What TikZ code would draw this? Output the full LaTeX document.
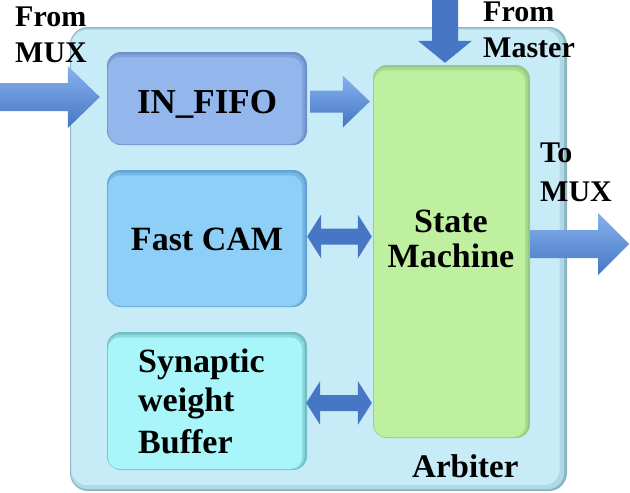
\documentclass[tikz,border=0pt]{standalone}
\usepackage{fontspec}
\setmainfont{Liberation Serif}
\usetikzlibrary{calc}

\definecolor{outerMain}{HTML}{C7ECF7}
\definecolor{outerMid}{HTML}{B0D9E7}
\definecolor{outerDark}{HTML}{8DB5C4}
\definecolor{fifoMain}{HTML}{93B7EC}
\definecolor{fifoDark}{HTML}{6D91C9}
\definecolor{camMain}{HTML}{8ECFF8}
\definecolor{camDark}{HTML}{62A4D6}
\definecolor{synMain}{HTML}{A8F6FA}
\definecolor{synDark}{HTML}{6FBFC4}
\definecolor{smMain}{HTML}{BEF0A0}
\definecolor{smDark}{HTML}{98C984}
\definecolor{arrLight}{HTML}{86B2EE}
\definecolor{arrMain}{HTML}{5F92DE}
\definecolor{arrDark}{HTML}{4676C4}

\tikzset{
  box/.style={rounded corners=14pt, inner sep=0pt, draw=none},
  bigtxt/.style={font=\bfseries\fontsize{34}{40}\selectfont, inner sep=0pt, text=black},
  smalltxt/.style={font=\bfseries\fontsize{30}{36}\selectfont, inner sep=0pt, text=black},
  singlearr/.style={top color=arrLight, middle color=arrMain, bottom color=arrDark},
  doublearr/.style={top color=arrDark, middle color=arrLight, bottom color=arrDark},
  vertarr/.style={left color=arrDark, middle color=arrLight, right color=arrDark},
}

% #1 start, #2 end, #3 shaft half, #4 head half, #5 head length, #6 style
\newcommand{\rightblock}[6]{%
  \shade[#6] let \p1=(#1), \p2=(#2) in
    (\x1,\y1+#3) -- (\x2-#5,\y1+#3) -- (\x2-#5,\y1+#4) -- (\x2,\y1)
    -- (\x2-#5,\y1-#4) -- (\x2-#5,\y1-#3) -- (\x1,\y1-#3) -- cycle;}
\newcommand{\bothblock}[6]{%
  \shade[#6] let \p1=(#1), \p2=(#2) in
    (\x1,\y1) -- (\x1+#5,\y1+#4) -- (\x1+#5,\y1+#3) -- (\x2-#5,\y1+#3)
    -- (\x2-#5,\y1+#4) -- (\x2,\y1) -- (\x2-#5,\y1-#4) -- (\x2-#5,\y1-#3)
    -- (\x1+#5,\y1-#3) -- (\x1+#5,\y1-#4) -- cycle;}
\newcommand{\downblock}[6]{%
  \shade[#6] let \p1=(#1), \p2=(#2) in
    (\x1-#3,\y1) -- (\x1-#3,\y2+#5) -- (\x1-#4,\y2+#5) -- (\x1,\y2)
    -- (\x1+#4,\y2+#5) -- (\x1+#3,\y2+#5) -- (\x1+#3,\y1) -- cycle;}
% inset look: #1 node, #2 main colour, #3 dark colour
\newcommand{\insetfill}[3]{%
  \fill[#3!55!#2, rounded corners=13pt] ($(#1.south west)+(0.7pt,0.7pt)$) rectangle ($(#1.north east)+(-2.5pt,-2.5pt)$);
  \fill[#2, rounded corners=12pt] ($(#1.south west)+(1.3pt,1.3pt)$) rectangle ($(#1.north east)+(-5pt,-5.5pt)$);}

\begin{document}
\begin{tikzpicture}[x=1pt, y=-1pt]
\useasboundingbox (0,0) rectangle (630,493);
\fill[white] (0,0) rectangle (630,493);

% Arbiter outer box
\node[box, rounded corners=18pt, fill=outerDark, minimum width=497pt, minimum height=464pt] (arb) at (318.5,259) {};
\fill[outerMid, rounded corners=17pt] ($(arb.south west)+(1pt,2pt)$) rectangle ($(arb.north east)+(-3pt,-1.5pt)$);
\fill[outerMain, rounded corners=16pt] ($(arb.south west)+(1.5pt,6pt)$) rectangle ($(arb.north east)+(-7.5pt,-3pt)$);

% inner boxes
\node[box, fill=fifoDark, minimum width=200pt, minimum height=93pt] (fifo) at (207,98.5) {};
\insetfill{fifo}{fifoMain}{fifoDark}
\node[box, fill=camDark, minimum width=200pt, minimum height=137pt] (cam) at (207,238.5) {};
\insetfill{cam}{camMain}{camDark}
\node[box, fill=synDark, minimum width=200pt, minimum height=138pt] (syn) at (207,401) {};
\insetfill{syn}{synMain}{synDark}
\node[box, fill=smDark, minimum width=157pt, minimum height=373pt] (sm) at (451.5,251.5) {};
\insetfill{sm}{smMain}{smDark}

% texts
\node[bigtxt, font=\bfseries\fontsize{35}{40}\selectfont, anchor=base] (fifotxt) at (207,113) {IN\_FIFO};
\node[bigtxt, anchor=base] (camtxt) at (207,250) {Fast CAM};
\node[bigtxt, anchor=north west, align=left] (syntxt) at (138,349) {Synaptic\\[-1pt]weight\\[2pt]Buffer};
\node[bigtxt, font=\bfseries\fontsize{34}{35}\selectfont, anchor=north, align=center] (smtxt) at (451,210) {State\\Machine};
\node[bigtxt, font=\bfseries\fontsize{33}{40}\selectfont, anchor=base west] (arbtxt) at (412,477) {Arbiter};
\node[smalltxt, anchor=north west, align=left] (muxintxt) at (15,7) {From\\MUX};
\node[smalltxt, font=\bfseries\fontsize{30}{36}\selectfont, anchor=north west, align=left] (mastertxt) at (483,2) {From\\Master};
\node[smalltxt, font=\bfseries\fontsize{30}{39}\selectfont, anchor=north west, align=left] (muxouttxt) at (540,143) {To\\MUX};

% block arrows
\coordinate (muxin) at (0,97);
\coordinate (master) at (445,0);
\coordinate (muxout) at (629,244);
\rightblock{muxin}{$(fifo.west)+(-7pt,0)$}{14pt}{31pt}{32pt}{singlearr}
\rightblock{$(fifo.east)+(3pt,-3pt)$}{$(sm.west)+(-3pt,0)$}{11pt}{26pt}{27pt}{singlearr}
\bothblock{$(cam.east)+(0,2pt)$}{$(sm.west)+(-1pt,0)$}{8pt}{22pt}{14pt}{doublearr}
\bothblock{$(syn.east)+(-1pt,-2pt)$}{$(sm.west)+(-1pt,0)$}{8pt}{22pt}{14pt}{doublearr}
\rightblock{sm.east |- muxout}{muxout}{14pt}{31pt}{31pt}{singlearr}
\downblock{master}{$(master |- sm.north)+(0,2pt)$}{13pt}{27pt}{22pt}{vertarr}
\end{tikzpicture}
\end{document}
